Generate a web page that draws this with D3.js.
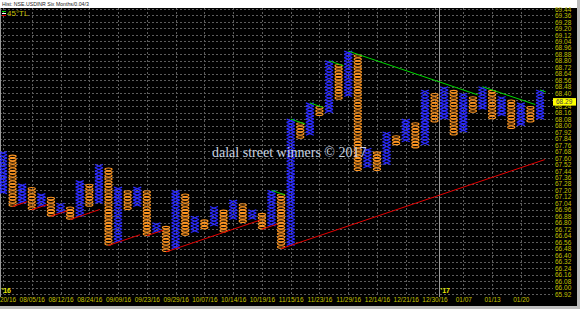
<!DOCTYPE html>
<html>
<head>
<meta charset="utf-8">
<script src="https://cdn.jsdelivr.net/npm/d3@7/dist/d3.min.js"></script>
<style>
  body { margin: 0; background: #fff; }
  svg { display: block; }
</style>
</head>
<body>
<div id="plot"></div>
<script>
// point & figure columns, box 0.04, 3 box reversal
const colTypes = ["X","O","X","O","X","O","X","O","X","O","X","O","X","O","X","O","X","O","X","O",
                  "X","O","X","O","X","O","X","O","X","O","X","O","X","O","X","O","X","O","X","O",
                  "X","O","X","O","X","O","X","O","X","O","X","O","X","O","X","O","X"];
const colHigh = [67.68,67.64,67.28,67.24,67.16,67.12,67.04,67.00,67.32,67.28,
                 67.52,67.48,67.24,67.20,67.24,67.20,66.80,66.76,67.20,67.16,
                 66.88,66.84,67.00,66.96,67.08,67.04,66.96,66.92,67.20,67.16,
                 68.08,68.04,68.28,68.24,68.80,68.76,68.92,68.88,67.72,67.68,
                 67.92,67.88,68.08,68.04,68.44,68.40,68.48,68.44,68.40,68.36,
                 68.48,68.44,68.36,68.32,68.28,68.24,68.44];
const colLow  = [67.16,67.00,67.04,66.96,67.00,66.88,66.92,66.84,66.88,67.00,
                 67.04,66.52,66.56,66.96,67.00,66.64,66.68,66.44,66.48,66.64,
                 66.68,66.72,66.76,66.68,66.84,66.80,66.84,66.72,66.76,66.48,
                 66.52,67.84,67.88,68.12,68.16,68.32,68.36,67.44,67.48,67.44,
                 67.52,67.76,67.80,67.72,67.76,68.04,68.08,67.88,67.92,68.16,
                 68.20,68.08,68.12,67.96,68.00,68.04,68.08];

// 45 degree trend lines: [start column, start price, end column]
const supportLines = [[1,67.00,2.5],[3,66.96,4.6],[5,66.88,6.7],[7,66.84,10.1],[11,66.52,14.3],
                      [15,66.64,16.7],[17,66.44,26.8],[27,66.72,28.6],[29,66.48,56.5]];
const resistLines  = [[28,67.20,29.4],[30,68.08,31.5],[32,68.28,33.4],[34,68.80,35.5],
                      [36,68.92,49.5],[50,68.48,55.5],[56,68.44,56.6]];

// date ticks
const dateCols   = [0,3,6,9,12,15,18,21,24,27,30,33,36,39,42,45,48,51,54];
const dateLabels = ["07/20/16","08/05/16","08/12/16","08/24/16","09/09/16","09/23/16","09/29/16",
                    "10/07/16","10/14/16","10/19/16","11/15/16","11/23/16","11/29/16","12/14/16",
                    "12/21/16","12/30/16","01/07","01/13","01/20"];
const yearCols   = [-0.3, 45.5];
const yearLabels = ["'16", "'17"];

const boxSize = 0.04;
const priceMin = 65.92, priceMax = 69.44, priceStep = 0.08;
const lastPrice = 68.29;

const svg = d3.select("div#plot")
              .append("svg")
              .attr("width", 580)
              .attr("height", 309)
              .style("font-family", "'Liberation Sans', Arial, sans-serif");

svg.append("rect").attr("width", 580).attr("height", 309).attr("fill", "#000");
// frame right / bottom
svg.append("rect").attr("x", 577).attr("y", 0).attr("width", 3).attr("height", 309).attr("fill", "#bdbdbd");
svg.append("rect").attr("x", 0).attr("y", 306).attr("width", 580).attr("height", 3).attr("fill", "#bdbdbd");
// title bar
svg.append("rect").attr("width", 577).attr("height", 8).attr("fill", "#fff");
svg.append("text")
   .attr("x", 2).attr("y", 6.3)
   .attr("font-size", "5.2px")
   .attr("fill", "#222")
   .text("Hist: NSE.USDINR Six Months/0.04/3");

const x = d3.scaleLinear().domain([0, 56]).range([3, 540]);
const y = d3.scaleLinear().domain([priceMin, priceMax]).range([294, 9]);

const ticks = d3.range(0, Math.round((priceMax - priceMin) / priceStep) + 1)
                .map(i => +(priceMin + i * priceStep).toFixed(2));

// grid
svg.append("g").selectAll("line")
   .data(ticks).enter().append("line")
   .attr("x1", 0).attr("x2", 553)
   .attr("y1", d => Math.round(y(d)) + 0.5).attr("y2", d => Math.round(y(d)) + 0.5)
   .attr("stroke", "#5c5c5c").attr("stroke-dasharray", "2,2");
svg.append("g").selectAll("line")
   .data(dateCols).enter().append("line")
   .attr("x1", d => Math.round(x(d)) + 0.5).attr("x2", d => Math.round(x(d)) + 0.5)
   .attr("y1", 8).attr("y2", 296)
   .attr("stroke", "#5c5c5c").attr("stroke-dasharray", "2,2");
svg.append("g").selectAll("line")
   .data(yearCols).enter().append("line")
   .attr("x1", d => Math.round(x(d)) + 0.5).attr("x2", d => Math.round(x(d)) + 0.5)
   .attr("y1", 8).attr("y2", 297)
   .attr("stroke", "#9a9a9a");

// boxes
const boxes = [];
colHigh.forEach((hi, i) => {
  const n = Math.round((hi - colLow[i]) / boxSize);
  for (let k = 0; k < n; k++) boxes.push({ col: i, type: colTypes[i], p: colLow[i] + k * boxSize });
});

svg.append("g").selectAll("path")
   .data(boxes.filter(b => b.type === "X")).enter().append("path")
   .attr("d", b => {
     const cx = x(b.col), t = y(b.p + boxSize), bt = y(b.p);
     return `M${cx - 4},${t}L${cx + 4},${bt}M${cx + 4},${t}L${cx - 4},${bt}`;
   })
   .attr("stroke", "#2c2cff").attr("stroke-width", 1.2).attr("fill", "none");

svg.append("g").selectAll("ellipse")
   .data(boxes.filter(b => b.type === "O")).enter().append("ellipse")
   .attr("cx", b => x(b.col))
   .attr("cy", b => y(b.p + boxSize / 2))
   .attr("rx", 3.6).attr("ry", 1.25)
   .attr("stroke", "#ff9622").attr("stroke-width", 1.1).attr("fill", "none");

// trend lines
svg.append("g").selectAll("line")
   .data(supportLines).enter().append("line")
   .attr("x1", d => x(d[0])).attr("y1", d => y(d[1]))
   .attr("x2", d => x(d[2])).attr("y2", d => y(d[1] + (d[2] - d[0]) * boxSize))
   .attr("stroke", "#e40000").attr("stroke-width", 1);
svg.append("g").selectAll("line")
   .data(resistLines).enter().append("line")
   .attr("x1", d => x(d[0])).attr("y1", d => y(d[1]))
   .attr("x2", d => x(d[2])).attr("y2", d => y(d[1] - (d[2] - d[0]) * boxSize))
   .attr("stroke", "#00d800").attr("stroke-width", 1);

// right price axis (label under the last price marker is hidden, as in the source)
const yAxis = d3.axisRight(y)
                .tickValues(ticks.filter(t => Math.abs(t - lastPrice) > 0.04))
                .tickSize(0).tickPadding(2).tickFormat(d3.format(".2f"));
const ax = svg.append("g").attr("transform", "translate(553,0)").call(yAxis);
ax.select(".domain").remove();
ax.selectAll("text").attr("fill", "#c4c000").attr("font-size", "6.5px")
  .attr("font-family", "'Liberation Sans', Arial, sans-serif");

// last price marker
svg.append("rect").attr("x", 553).attr("y", y(lastPrice) - 4).attr("width", 23).attr("height", 7.5).attr("fill", "#ffff00");
svg.append("text").attr("x", 556).attr("y", y(lastPrice) + 2.2)
   .attr("font-size", "6.5px").attr("fill", "#444").text(lastPrice.toFixed(2));

// date axis
const xAxis = d3.axisBottom(x).tickValues(dateCols).tickSize(0).tickPadding(0)
                .tickFormat((d, i) => dateLabels[i]);
const bx = svg.append("g").attr("transform", "translate(0,297.5)").call(xAxis);
bx.select(".domain").remove();
bx.selectAll("text").attr("fill", "#c4c000").attr("font-size", "6.5px")
  .attr("font-family", "'Liberation Sans', Arial, sans-serif");

svg.append("g").selectAll("text")
   .data(yearCols).enter().append("text")
   .attr("x", d => Math.round(x(d)) + 1.5).attr("y", 293)
   .attr("font-size", "7px").attr("font-weight", "bold").attr("fill", "#e6e600")
   .text((d, i) => yearLabels[i]);

// legend
svg.append("line").attr("x1", 2).attr("x2", 6).attr("y1", 11.5).attr("y2", 11.5).attr("stroke", "#00d800");
svg.append("line").attr("x1", 2).attr("x2", 6).attr("y1", 13.5).attr("y2", 13.5).attr("stroke", "#ffffff");
svg.append("line").attr("x1", 2).attr("x2", 6).attr("y1", 15.5).attr("y2", 15.5).attr("stroke", "#e40000");
svg.append("text").attr("x", 7).attr("y", 16).attr("font-size", "8px").attr("fill", "#c4c000").text("45°TL");

// watermark
svg.append("text")
   .attr("x", 212).attr("y", 157)
   .attr("font-family", "'Liberation Serif', 'Times New Roman', serif")
   .attr("font-size", "14px")
   .attr("fill", "#c9d5e1")
   .text("dalal street winners © 2017");
</script>
</body>
</html>
